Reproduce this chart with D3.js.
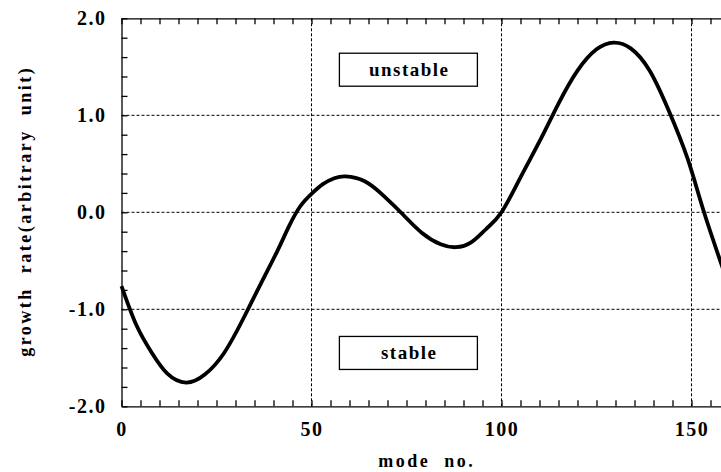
<!DOCTYPE html>
<meta charset="utf-8">
<style>
body {
  margin: 0;
  background: #fff;
}
svg text {
  font-family: "Times New Roman", "Liberation Serif", Times, serif;
  font-weight: 700;
  fill: #000;
}
.axis text {
  font-size: 20px;
  letter-spacing: 1.5px;
}
.axis line, .axis path {
  stroke: #000;
  stroke-width: 1.3;
}
.grid {
  stroke: #000;
  stroke-width: 1;
  stroke-dasharray: 3,2;
}
.curve {
  fill: none;
  stroke: #000;
  stroke-width: 3.8;
  stroke-linejoin: round;
}
.title {
  font-size: 18px;
  letter-spacing: 2.5px;
  white-space: pre;
}
.note rect {
  fill: #fff;
  stroke: #000;
  stroke-width: 1.3;
}
.note text {
  font-size: 19px;
  letter-spacing: 1.5px;
}
</style>
<body>
<script src="https://cdn.jsdelivr.net/npm/d3@7"></script>
<script>

// values
var modeNo = [0, 4, 8, 12, 17, 22, 27, 32, 37, 41, 44, 47, 50, 53, 56, 59, 64, 69, 74, 79, 84, 88,
  92, 96, 100, 105, 110, 115, 120, 125, 129.5, 134, 139, 144, 149, 153.3, 158, 160];
var growthRate = [-0.76, -1.17, -1.45, -1.66, -1.755, -1.67, -1.45, -1.10, -0.71, -0.40, -0.15, 0.06, 0.19, 0.29, 0.35, 0.37, 0.32, 0.17, -0.02, -0.21, -0.33, -0.36,
  -0.31, -0.17, 0.0, 0.36, 0.73, 1.12, 1.46, 1.68, 1.75, 1.69, 1.46, 1.05, 0.55, 0.0, -0.55, -0.79];

var xMajor = [0, 50, 100, 150];
var yMajor = [-2, -1, 0, 1, 2];
var xGrid = [50, 100, 150];
var yGrid = [-1, 0, 1];

var notes = [
  {label: "unstable", x: 75.5, y: 1.47},
  {label: "stable", x: 75.5, y: -1.45}
];

var width = 721,
    height = 472;

var plotLeft = 121.5,
    plotTop = 18.3,
    plotW = 608,
    plotH = 388;

var x = d3.scaleLinear().domain([0, 160]).range([plotLeft, plotLeft + plotW]);
var y = d3.scaleLinear().domain([-2, 2]).range([plotTop + plotH, plotTop]);

var svg = d3.select("body").append("svg")
    .attr("width", width)
    .attr("height", height);

// dashed grid
svg.selectAll(".gx")
    .data(xGrid)
  .enter().append("line")
    .attr("class", "grid")
    .attr("x1", function(d) { return x(d); })
    .attr("x2", function(d) { return x(d); })
    .attr("y1", y(-2))
    .attr("y2", y(2));

svg.selectAll(".gy")
    .data(yGrid)
  .enter().append("line")
    .attr("class", "grid")
    .attr("x1", x(0))
    .attr("x2", x(160))
    .attr("y1", function(d) { return y(d); })
    .attr("y2", function(d) { return y(d); });

// minor ticks on all four sides, pointing in
var xMinor = d3.range(0, 161, 5),
    yMinor = d3.range(-2, 2.01, 0.2);

svg.append("g")
    .attr("class", "axis")
    .attr("transform", "translate(0," + y(-2) + ")")
    .call(d3.axisBottom(x).tickValues(xMinor).tickFormat("").tickSize(-6).tickSizeOuter(0));

svg.append("g")
    .attr("class", "axis")
    .attr("transform", "translate(0," + y(2) + ")")
    .call(d3.axisTop(x).tickValues(xMinor).tickFormat("").tickSize(-6).tickSizeOuter(0));

svg.append("g")
    .attr("class", "axis")
    .attr("transform", "translate(" + x(0) + ",0)")
    .call(d3.axisLeft(y).tickValues(yMinor).tickFormat("").tickSize(-6).tickSizeOuter(0));

svg.append("g")
    .attr("class", "axis")
    .attr("transform", "translate(" + x(160) + ",0)")
    .call(d3.axisRight(y).tickValues(yMinor).tickFormat("").tickSize(-6).tickSizeOuter(0));

// labelled axes
var xAxis = svg.append("g")
    .attr("class", "axis")
    .attr("transform", "translate(0," + y(-2) + ")")
    .call(d3.axisBottom(x).tickValues(xMajor).tickFormat(function(d) { return d; })
      .tickSize(0).tickPadding(16));
xAxis.select(".domain").remove();
xAxis.selectAll("text").attr("font-family", null);

var yAxis = svg.append("g")
    .attr("class", "axis")
    .attr("transform", "translate(" + x(0) + ",0)")
    .call(d3.axisLeft(y).tickValues(yMajor).tickFormat(function(d) { return d.toFixed(1); })
      .tickSize(0).tickPadding(15));
yAxis.select(".domain").remove();

svg.selectAll(".axis").attr("font-family", null).attr("font-size", null);

// curve
var line = d3.line()
    .x(function(d) { return x(d[0]); })
    .y(function(d) { return y(d[1]); })
    .curve(d3.curveNatural);

svg.append("path")
    .datum(d3.zip(modeNo, growthRate))
    .attr("class", "curve")
    .attr("d", line);

// boxed notes
var note = svg.selectAll(".note")
    .data(notes)
  .enter().append("g")
    .attr("class", "note")
    .attr("transform", function(d) { return "translate(" + x(d.x) + "," + y(d.y) + ")"; });

note.append("rect")
    .attr("x", -69)
    .attr("y", -16.5)
    .attr("width", 138)
    .attr("height", 33);

note.append("text")
    .attr("text-anchor", "middle")
    .attr("dx", 0.8)
    .attr("dy", "0.33em")
    .text(function(d) { return d.label; });

// axis titles
svg.append("text")
    .attr("class", "title")
    .attr("text-anchor", "middle")
    .attr("x", x(80) + 1.2)
    .attr("y", 467)
    .text("mode  no.");

svg.append("text")
    .attr("class", "title")
    .attr("text-anchor", "middle")
    .attr("transform", "translate(31," + (y(0) - 1) + ") rotate(-90)")
    .text("growth  rate(arbitrary  unit)");

</script>
